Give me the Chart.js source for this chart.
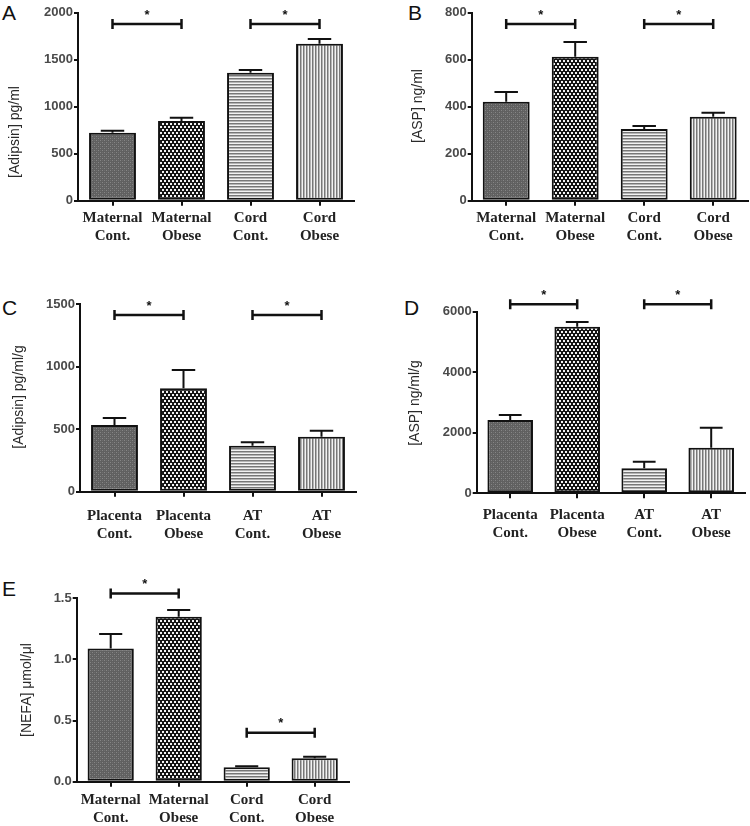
<!DOCTYPE html>
<html>
<head>
<meta charset="utf-8">
<script src="https://cdn.jsdelivr.net/npm/chart.js@4.4.0/dist/chart.umd.min.js"></script>
<style>
  body { margin: 0; background: #fff; width: 750px; height: 826px; position: relative; overflow: hidden; }
  .panel { position: absolute; }
  .letter { position: absolute; font: 21px 'Liberation Sans', Arial, sans-serif; line-height: 21px; color: #111; }
</style>
</head>
<body>
<div class="letter" style="left:2px;top:2px">A</div>
<div class="letter" style="left:408px;top:2px">B</div>
<div class="letter" style="left:2px;top:297px">C</div>
<div class="letter" style="left:404px;top:297px">D</div>
<div class="letter" style="left:2px;top:578px">E</div>
<script>
// group labels
const maternalCordLabels = [['Maternal', 'Cont.'], ['Maternal', 'Obese'], ['Cord', 'Cont.'], ['Cord', 'Obese']];
const tissueLabels = [['Placenta', 'Cont.'], ['Placenta', 'Obese'], ['AT', 'Cont.'], ['AT', 'Obese']];

// A: plasma adipsin, pg/ml (mean, SEM)
const adipsinPlasma = [723, 848, 1362, 1670];
const adipsinPlasmaSem = [22, 35, 28, 50];
// B: plasma ASP, ng/ml
const aspPlasma = [421, 613, 305, 357];
const aspPlasmaSem = [42, 62, 13, 17];
// C: tissue adipsin, pg/ml/g
const adipsinTissue = [533, 826, 368, 440];
const adipsinTissueSem = [56, 147, 27, 47];
// D: tissue ASP, ng/ml/g
const aspTissue = [2420, 5500, 826, 1507];
const aspTissueSem = [165, 157, 219, 660];
// E: NEFA, umol/ul
const nefa = [1.09, 1.35, 0.118, 0.191];
const nefaSem = [0.117, 0.055, 0.008, 0.014];

// significance brackets: [from bar, to bar, height in data units]
const sigA = [[0, 1, 1880], [2, 3, 1880]];
const sigB = [[0, 1, 752], [2, 3, 752]];
const sigC = [[0, 1, 1412], [2, 3, 1412]];
const sigD = [[0, 1, 6250], [2, 3, 6250]];
const sigE = [[0, 1, 1.54], [2, 3, 0.40]];

// y axis ranges: [max, step]
const yRangeA = [2000, 500];
const yRangeB = [800, 200];
const yRangeC = [1500, 500];
const yRangeD = [6000, 2000];
const yRangeE = [1.5, 0.5];

Chart.defaults.font.family = "'Liberation Sans', Arial, sans-serif";

function tile(w, h, draw) {
  const c = document.createElement('canvas');
  c.width = w; c.height = h;
  const g = c.getContext('2d');
  draw(g);
  return g.createPattern(c, 'repeat');
}

const fills = [
  tile(4, 4, g => {
    g.fillStyle = '#606060'; g.fillRect(0, 0, 4, 4);
    g.fillStyle = '#868686'; g.fillRect(0, 0, 1, 1); g.fillRect(2, 2, 1, 1);
    g.fillStyle = '#6e6e6e'; g.fillRect(2, 0, 1, 1); g.fillRect(0, 2, 1, 1);
  }),
  tile(4, 6, g => {
    g.fillStyle = '#141414'; g.fillRect(0, 0, 4, 6);
    g.fillStyle = '#f4f4f4'; g.fillRect(0, 0, 2, 2); g.fillRect(2, 3, 2, 2);
  }),
  tile(1, 3, g => {
    g.fillStyle = '#f2f2f2'; g.fillRect(0, 0, 1, 3);
    g.fillStyle = '#777'; g.fillRect(0, 0, 1, 1);
    g.fillStyle = '#b4b4b4'; g.fillRect(0, 1, 1, 1);
  }),
  tile(3, 1, g => {
    g.fillStyle = '#f2f2f2'; g.fillRect(0, 0, 3, 1);
    g.fillStyle = '#777'; g.fillRect(0, 0, 1, 1);
    g.fillStyle = '#b4b4b4'; g.fillRect(1, 0, 1, 1);
  })
];

// error bars, significance brackets and y title
const extras = {
  id: 'extras',
  afterDraw(chart, args, o) {
    const ctx = chart.ctx;
    const meta = chart.getDatasetMeta(0);
    const y = chart.scales.y;
    ctx.save();
    ctx.strokeStyle = '#111';
    ctx.lineWidth = 2;
    o.sem.forEach((s, i) => {
      const bar = meta.data[i];
      const top = y.getPixelForValue(o.values[i] + s);
      const half = bar.width / 4;
      ctx.beginPath();
      ctx.moveTo(bar.x, bar.y);
      ctx.lineTo(bar.x, top);
      ctx.moveTo(bar.x - half, top);
      ctx.lineTo(bar.x + half, top);
      ctx.stroke();
    });
    ctx.lineWidth = 2.5;
    ctx.fillStyle = '#111';
    ctx.font = "bold 13px 'Liberation Sans', Arial";
    ctx.textAlign = 'center';
    ctx.textBaseline = 'middle';
    o.sig.forEach(([a, b, v]) => {
      const x1 = meta.data[a].x, x2 = meta.data[b].x;
      const py = y.getPixelForValue(v);
      ctx.beginPath();
      ctx.moveTo(x1, py); ctx.lineTo(x2, py);
      ctx.moveTo(x1, py - 5); ctx.lineTo(x1, py + 5);
      ctx.moveTo(x2, py - 5); ctx.lineTo(x2, py + 5);
      ctx.stroke();
      ctx.fillText('*', (x1 + x2) / 2, py - 9);
    });
    ctx.fillStyle = '#2a2a2a';
    ctx.font = "14px 'Liberation Sans', Arial";
    ctx.translate(o.titleAt[0], o.titleAt[1]);
    ctx.rotate(-Math.PI / 2);
    ctx.fillText(o.title, 0, 0);
    ctx.restore();
  }
};

const panels = [
  { left: 0, top: 0, w: 372, h: 265, labels: maternalCordLabels, values: adipsinPlasma, sem: adipsinPlasmaSem,
    sig: sigA, range: yRangeA, title: '[Adipsin] pg/ml', titleAt: [15, 132],
    axisX: 78, plotRight: 354, plotTop: 12.7, plotBottom: 200.7, labelPad: 3.3 },
  { left: 375, top: 0, w: 375, h: 265, labels: maternalCordLabels, values: aspPlasma, sem: aspPlasmaSem,
    sig: sigB, range: yRangeB, title: '[ASP] ng/ml', titleAt: [43, 106],
    axisX: 96.7, plotRight: 372.7, plotTop: 12.7, plotBottom: 200.7, labelPad: 3.6 },
  { left: 0, top: 280, w: 372, h: 265, labels: tissueLabels, values: adipsinTissue, sem: adipsinTissueSem,
    sig: sigC, range: yRangeC, title: '[Adipsin] pg/ml/g', titleAt: [19, 117],
    axisX: 80, plotRight: 356, plotTop: 24, plotBottom: 211.7, labelPad: 10 },
  { left: 375, top: 280, w: 375, h: 265, labels: tissueLabels, values: aspTissue, sem: aspTissueSem,
    sig: sigD, range: yRangeD, title: '[ASP] ng/ml/g', titleAt: [40, 123],
    axisX: 101.7, plotRight: 369.7, plotTop: 31.7, plotBottom: 213.3, labelPad: 7.7 },
  { left: 0, top: 560, w: 372, h: 266, labels: maternalCordLabels, values: nefa, sem: nefaSem,
    sig: sigE, range: yRangeE, title: '[NEFA] \u03bcmol/\u03bcl', titleAt: [27, 130],
    axisX: 76.7, plotRight: 348.7, plotTop: 38.3, plotBottom: 221.7, labelPad: 4.3, decimals: 1 }
];

panels.forEach(p => {
  const box = document.createElement('div');
  box.className = 'panel';
  box.style.cssText = `left:${p.left}px;top:${p.top}px;width:${p.w}px;height:${p.h}px`;
  const canvas = document.createElement('canvas');
  box.appendChild(canvas);
  document.body.appendChild(box);

  new Chart(canvas, {
    type: 'bar',
    data: {
      labels: p.labels,
      datasets: [{
        data: p.values,
        backgroundColor: fills,
        borderColor: '#111',
        borderWidth: 2,
        borderSkipped: false,
        barPercentage: 0.68,
        categoryPercentage: 1
      }]
    },
    options: {
      responsive: true,
      maintainAspectRatio: false,
      animation: false,
      layout: { padding: { left: 0, top: p.plotTop, right: p.w - p.plotRight, bottom: 0 } },
      plugins: {
        legend: { display: false },
        tooltip: { enabled: false },
        extras: { values: p.values, sem: p.sem, sig: p.sig, title: p.title, titleAt: p.titleAt }
      },
      scales: {
        x: {
          offset: true,
          afterFit: s => { s.height = p.h - p.plotBottom; },
          grid: { offset: false, drawOnChartArea: false, drawTicks: true, tickLength: 5, color: '#111', lineWidth: 2 },
          border: { display: true, color: '#111', width: 2 },
          ticks: {
            autoSkip: false, maxRotation: 0, padding: p.labelPad, color: '#222',
            font: { family: "'Liberation Serif', 'Times New Roman', serif", size: 15, weight: 'bold', lineHeight: 1.2 }
          }
        },
        y: {
          min: 0,
          max: p.range[0],
          afterFit: s => { s.width = p.axisX; },
          grid: { drawOnChartArea: false, drawTicks: true, tickLength: 4, color: '#111', lineWidth: 2 },
          border: { display: true, color: '#111', width: 2 },
          ticks: {
            stepSize: p.range[1], padding: 1, color: '#4a4a4a',
            font: { size: 13, weight: 'bold' },
            callback: v => p.decimals ? v.toFixed(p.decimals) : v
          }
        }
      }
    },
    plugins: [extras]
  });
});
</script>
</body>
</html>
